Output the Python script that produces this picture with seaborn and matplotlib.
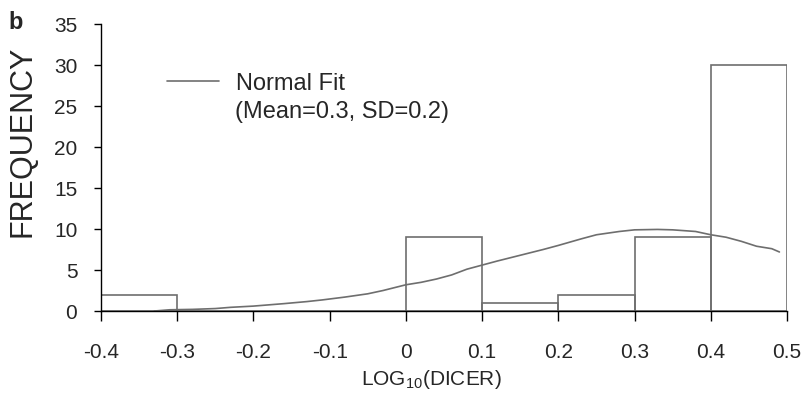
import numpy as np
import pandas as pd
import matplotlib
matplotlib.use("Agg")
import matplotlib.pyplot as plt
import seaborn as sns

# histogram bins of log10(DICER) and their counts
bin_edges = [-0.4, -0.3, -0.2, -0.1, 0.0, 0.1, 0.2, 0.3, 0.4, 0.5]
bin_counts = [2, 0, 0, 0, 9, 1, 2, 9, 30]

# normal fit curve
fit_x = [-0.33, -0.31, -0.28, -0.25, -0.23, -0.20, -0.18, -0.16, -0.13, -0.11,
         -0.08, -0.05, -0.03, 0.00, 0.02, 0.04, 0.06, 0.08, 0.10, 0.12,
         0.15, 0.18, 0.20, 0.23, 0.25, 0.28, 0.30, 0.33, 0.35, 0.38,
         0.40, 0.42, 0.44, 0.46, 0.48, 0.49]
fit_y = [0.0, 0.15, 0.2, 0.3, 0.45, 0.6, 0.75, 0.9, 1.15, 1.35,
         1.7, 2.1, 2.5, 3.2, 3.5, 3.9, 4.4, 5.1, 5.6, 6.1,
         6.8, 7.5, 8.0, 8.8, 9.3, 9.7, 9.9, 9.95, 9.9, 9.7,
         9.3, 9.0, 8.5, 7.9, 7.6, 7.2]

x_ticks = [-0.4, -0.3, -0.2, -0.1, 0.0, 0.1, 0.2, 0.3, 0.4, 0.5]
x_tick_labels = ["-0.4", "-0.3", "-0.2", "-0.1", "0", "0.1", "0.2", "0.3", "0.4", "0.5"]
y_ticks = [0, 5, 10, 15, 20, 25, 30, 35]

sns.set_style("ticks")
plt.rcParams["font.family"] = ["Liberation Sans", "DejaVu Sans"]

grey = "#6e6e6e"
centers = [(a + b) / 2 for a, b in zip(bin_edges[:-1], bin_edges[1:])]
hist_df = pd.DataFrame({"x": centers, "n": bin_counts})
fit_df = pd.DataFrame({"x": fit_x, "y": fit_y})

fig = plt.figure(figsize=(8.04, 4.08), dpi=100)
ax = fig.add_axes([0.1256, 0.2377, 0.8533, 0.7034])

sns.histplot(data=hist_df, x="x", weights="n", bins=bin_edges, ax=ax,
             fill=False, element="bars", color=grey, linewidth=1.2)
sns.lineplot(data=fit_df, x="x", y="y", ax=ax, color=grey, linewidth=1.2,
             label="Normal Fit")

ax.set_xlim(-0.4, 0.5)
ax.set_ylim(0, 35)
ax.set_xticks(x_ticks)
ax.set_xticklabels(x_tick_labels)
ax.set_yticks(y_ticks)
ax.tick_params(axis="both", labelsize=15, width=1, color="black")
ax.tick_params(axis="x", length=7, pad=16)
ax.tick_params(axis="y", length=5, pad=12)
for s in ["top", "right"]:
    ax.spines[s].set_visible(False)
for s in ["left", "bottom"]:
    ax.spines[s].set_linewidth(1)
    ax.spines[s].set_color("black")

ax.set_xlabel(r"LOG$_{\mathregular{10}}$(DICER)", fontsize=15)
ax.xaxis.set_label_coords(0.481, -0.2)
ax.set_ylabel("FREQUENCY", fontsize=22)
ax.yaxis.set_label_coords(-0.092, 0.59)

leg = ax.legend(loc="upper left", bbox_to_anchor=(0.065, 0.905), frameon=False,
                fontsize=17, handlelength=2.2, handletextpad=0.75)
ax.text(0.195, 0.692, "(Mean=0.3, SD=0.2)", transform=ax.transAxes,
        fontsize=17, va="center", ha="left")

fig.text(0.01, 0.945, "b", fontsize=17, fontweight="bold", va="center")

fig.savefig("out.png", dpi=100)
